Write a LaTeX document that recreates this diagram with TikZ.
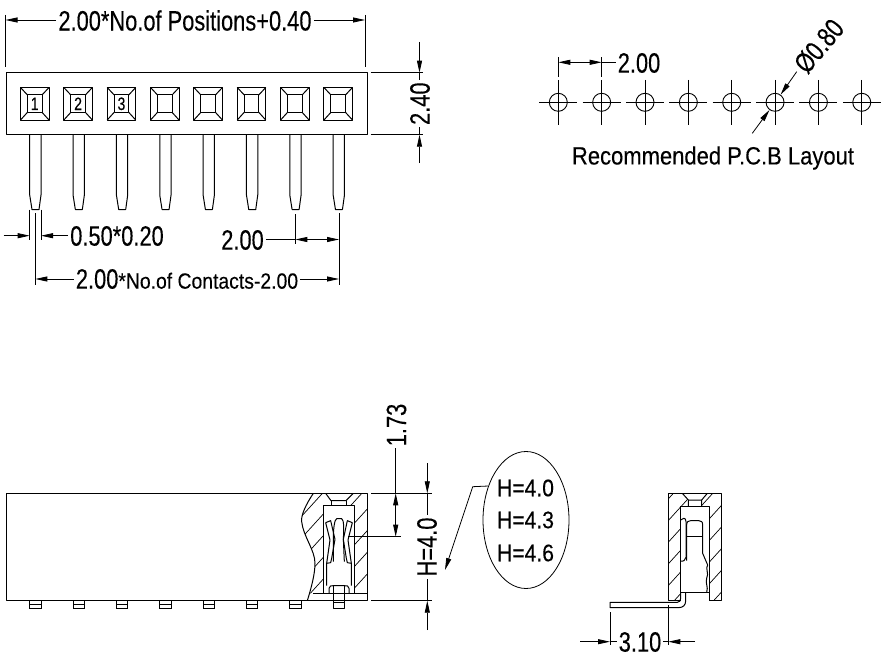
\documentclass[tikz,border=0pt]{standalone}
\usepackage{fontspec}
\setmainfont{Liberation Sans}
\newfontfamily\dimfont[FakeStretch=0.78,FakeBold=0.25]{Liberation Sans}
\newfontfamily\labfont[FakeStretch=0.88,FakeBold=0.25]{Liberation Sans}
\usetikzlibrary{arrows.meta,shapes.geometric}
\tikzset{
	part/.style={line width=1pt, line join=round},
	thinline/.style={line width=.8pt},
	hatch/.style={line width=.7pt},
	dimarr/.style={line width=.8pt, -{Triangle[length=12pt,width=5pt]}},
	dimboth/.style={line width=.8pt, {Triangle[length=12pt,width=5pt]}-{Triangle[length=12pt,width=5pt]}},
	dimtxt/.style={font=\fontsize{28}{28}\dimfont, inner sep=2pt},
	labtxt/.style={font=\fontsize{24}{24}\labfont, inner sep=1pt},
	smalltxt/.style={font=\fontsize{18}{18}\dimfont, inner sep=0pt},
	hole/.style={circle, draw, line width=.9pt, minimum size=18pt, inner sep=0pt}
}
\begin{document}
\begin{tikzpicture}[x=1pt, y=-1pt]
	\useasboundingbox (0,0) rectangle (887,661);

	\draw [part] (6,72.7) rectangle (367,134.7);
	\foreach \i in {0,...,7} {
		\begin{scope}[xshift=\i*43.35pt]
			\draw [part] (20.5,87.5) rectangle (49,120);
			\draw [part] (27.5,95) rectangle (42,112.3);
			\draw [part] (20.5,87.5) -- (27.5,95) (49,87.5) -- (42,95) (20.5,120) -- (27.5,112.3) (49,120) -- (42,112.3);
			\draw [part] (29.7,134.7) -- (29.7,195) -- (32,209.5) -- (39,209.5) -- (41,195) -- (41,134.7);
		\end{scope}
	}
	\foreach \i in {1,2,3}
		\node [smalltxt] (num\i) at ({34.75+(\i-1)*43.35},103.8) {\i};

	\node [dimtxt] (wtxt) at (185,20.5) {2.00*No.of Positions+0.40};
	\coordinate (wl) at (5.5,20);
	\coordinate (wr) at (365,20);
	\draw [thinline] (5.5,15) -- (5.5,67) (365,15) -- (365,67);
	\draw [dimarr] (wtxt.west |- wl) -- (wl);
	\draw [dimarr] (wtxt.east |- wr) -- (wr);

	\node [dimtxt, rotate=90] (htxt) at (420,103.7) {2.40};
	\coordinate (ht) at (419.5,72.7);
	\coordinate (hb) at (419.5,134.7);
	\coordinate (hta) at (419.5,42);
	\coordinate (hba) at (419.5,163);
	\draw [thinline] (370.7,72.7) -- (423,72.7) (370.7,134.7) -- (423,134.7);
	\draw [dimarr] (hta) -- (ht);
	\draw [dimarr] (hba) -- (hb);
	\draw [thinline] (ht) -- (ht |- htxt.east) (hb) -- (hb |- htxt.west);

	\node [dimtxt] (ptxt) at (117,236) {0.50*0.20};
	\coordinate (pl) at (29.7,235.7);
	\coordinate (pr) at (41,235.7);
	\coordinate (pla) at (3.6,235.7);
	\draw [thinline] (29.7,209.5) -- (29.7,240) (41,209.5) -- (41,240);
	\draw [dimarr] (pla) -- (pl);
	\draw [dimarr] (ptxt.west |- pr) -- (pr);

	\node [dimtxt] (stxt) at (242.5,240) {2.00};
	\coordinate (sl) at (295.3,239.5);
	\coordinate (sr) at (339,239.5);
	\draw [thinline] (295.3,214) -- (295.3,244);
	\draw [dimboth] (sl) -- (sr);
	\draw [thinline] (stxt.east |- sl) -- (sl);

	\node [inner sep=2pt] (ctxt) at (187,279) {\fontsize{28}{28}\dimfont 2.00\fontsize{22}{22}\labfont *No.of Contacts-2.00};
	\coordinate (cl) at (35.3,279);
	\coordinate (cr) at (339,279);
	\draw [thinline] (35.3,213) -- (35.3,285) (339,213) -- (339,285);
	\draw [dimarr] (ctxt.west |- cl) -- (cl);
	\draw [dimarr] (ctxt.east |- cr) -- (cr);

	\foreach \i in {1,...,8} {
		\node [hole] (hole\i) at ({558.3+(\i-1)*43.35},102.3) {};
		\draw [thinline] (hole\i.center) ++(0,-22.5) -- ++(0,45);
		\draw [thinline] (hole\i.center) ++(-19,0) -- ++(38,0);
	}
	\node [dimtxt] (padtxt) at (639,63) {2.00};
	\coordinate (padl) at (558.3,62.3);
	\coordinate (padr) at (601.7,62.3);
	\draw [thinline] (558.3,57.3) -- (558.3,76.7) (601.7,57.3) -- (601.7,76.7);
	\draw [dimboth] (padl) -- (padr);
	\draw [thinline] (padr) -- (padtxt.west |- padr);
	\node [dimtxt, rotate=50] (diatxt) at (819,46) {Ø0.80};
	\coordinate (dial) at (752.3,133.3);
	\coordinate (diar) at (796.7,71.7);
	\draw [dimarr] (dial) -- (hole6.234);
	\draw [dimarr] (diar) -- (hole6.54);
	\node [labtxt, font=\fontsize{25}{25}\labfont] (pcbtxt) at (713,158) {Recommended P.C.B Layout};

	\draw [part] (307.3,600.7) -- (6,600.7) -- (6,493.3) -- (367.7,493.3) -- (367.7,600.7) -- (307.3,600.7);
	\foreach \i in {0,...,6} {
		\begin{scope}[xshift=\i*43.35pt]
			\draw [thinline] (29.7,600.7) rectangle (41,608.3) (29.7,604) -- (41,604);
		\end{scope}
	}

	\begin{scope}[shift={(280,440)}, x=1/3*1pt, y=-1/3*1pt]
		\begin{scope}
			\clip (100,160) .. controls (80,190) and (62,225) .. (65,245) .. controls (70,290) and (105,330) .. (105,370) .. controls (105,400) and (95,440) .. (85,460) -- (130,460) -- (130,197) -- (153,197) -- (153,182) -- (137,160) -- cycle;
			\foreach \k in {0,...,11}
				\draw [hatch] (0,{\k*65+40}) -- +(400,-440);
		\end{scope}
		\begin{scope}
			\clip (220,160) -- (198,182) -- (198,197) -- (222,197) -- (222,460) -- (262,460) -- (262,160) -- cycle;
			\foreach \k in {0,...,11}
				\draw [hatch] (0,{\k*65+40}) -- +(400,-440);
		\end{scope}
		\draw [part] (100,160) .. controls (80,190) and (62,225) .. (65,245) .. controls (70,290) and (105,330) .. (105,370) .. controls (105,400) and (95,440) .. (82,482);
		\draw [part] (130,460) -- (130,197) -- (222,197) -- (222,460);
		\draw [part] (137,160) -- (153,182) -- (198,182) -- (220,160);
		\draw [part] (153,182) -- (153,197) (198,182) -- (198,197);
		\draw [part] (100,460) -- (262,460);
		\draw [part] (160,365) -- (160,295) .. controls (160,270) and (163,238) .. (170,236) -- (185,236) .. controls (192,238) and (192,270) .. (190,295) -- (193,365);
		\draw [part] (137,248) -- (150,300) -- (140,370) -- (140,437);
		\draw [part] (137,248) -- (152,242) -- (165,298) -- (155,355) -- (152,368) -- (140,370);
		\draw [part] (217,248) -- (204,300) -- (214,370) -- (214,437);
		\draw [part] (217,248) -- (202,242) -- (190,298) -- (199,355) -- (202,368) -- (214,370);
		\draw [part] (147,460) -- (147,445) .. controls (147,437) and (155,437) .. (160,437) -- (193,437) .. controls (200,437) and (207,437) .. (207,445) -- (207,460);
		\draw [part] (160,437) -- (160,505) -- (193,505) -- (193,437) (160,488) -- (193,488);
	\end{scope}

	\node [dimtxt, rotate=90] (ltxt) at (396.5,425) {1.73};
	\coordinate (lt) at (395.7,493.3);
	\coordinate (lb) at (395.7,536.7);
	\draw [thinline] (348,536.7) -- (400.7,536.7);
	\draw [thinline] (371,493.3) -- (431.7,493.3) (371,600.7) -- (431.7,600.7);
	\draw [thinline] (lt |- ltxt.west) -- (lt);
	\draw [dimboth] (lt) -- (lb);

	\node [dimtxt, rotate=90] (ftxt) at (427,547) {H=4.0};
	\coordinate (ft) at (427.3,493.3);
	\coordinate (fb) at (427.3,600.7);
	\coordinate (fta) at (427.3,463);
	\coordinate (fba) at (427.3,630);
	\draw [dimarr] (fta) -- (ft);
	\draw [dimarr] (fba) -- (fb);
	\draw [thinline] (ft) -- (ft |- ftxt.east) (fb) -- (fb |- ftxt.west);

	\node [ellipse, draw, line width=.8pt, minimum width=86pt, minimum height=137pt, inner sep=0pt] (oval) at (526,520) {};
	\node [labtxt] (h1) at (525.5,488) {H=4.0};
	\node [labtxt] (h2) at (525.5,520) {H=4.3};
	\node [labtxt] (h3) at (525.5,553) {H=4.6};
	\coordinate (ovbend) at (472.7,486.7);
	\coordinate (ovtip) at (445,570);
	\draw [dimarr] (oval.138) -- (ovbend) -- (ovtip);

	\begin{scope}[shift={(590,470)}, x=1/3*1pt, y=-1/3*1pt]
		\begin{scope}
			\clip (235,70) -- (277,70) -- (295,90) -- (295,108) -- (272,108) -- (272,392) -- (235,392) -- cycle;
			\foreach \k in {0,...,11}
				\draw [hatch] (100,{\k*65+40}) -- +(400,-440);
		\end{scope}
		\begin{scope}
			\clip (352,70) -- (393,70) -- (393,392) -- (357,392) -- (357,108) -- (335,108) -- (335,90) -- cycle;
			\foreach \k in {0,...,11}
				\draw [hatch] (100,{\k*65+40}) -- +(400,-440);
		\end{scope}
		\draw [part] (272,392) -- (235,392) -- (235,70) -- (393,70) -- (393,392) -- (357,392);
		\draw [part] (272,392) -- (272,108) -- (357,108) -- (357,392);
		\draw [part] (277,70) -- (295,90) -- (335,90) -- (352,70) (295,90) -- (295,108) (335,90) -- (335,108);
		\draw [part] (272,367) -- (357,367);
		\draw [part] (272,367) -- (272,385) .. controls (272,392) and (268,397) .. (262,397) -- (60,397) -- (60,413) -- (265,413) .. controls (280,413) and (287,405) .. (287,392) -- (287,367);
		\draw [part] (272,150) .. controls (276,145) and (288,140) .. (288,155) -- (288,262) .. controls (288,270) and (278,276) .. (272,273);
		\draw [part] (290,272) -- (290,165) .. controls (290,155) and (295,152) .. (302,152) -- (326,152) .. controls (334,152) and (338,155) .. (338,165) -- (338,250) -- (353,285) .. controls (345,295) and (358,310) .. (350,325) .. controls (345,340) and (356,350) .. (350,367);
		\draw [part] (290,198) -- (338,198);
	\end{scope}

	\node [dimtxt] (rtxt) at (640,642) {3.10};
	\coordinate (rl) at (610,641.7);
	\coordinate (rr) at (668.3,641.7);
	\coordinate (rla) at (580,641.7);
	\coordinate (rra) at (695,641.7);
	\draw [thinline] (610,612) -- (610,645) (668.3,605) -- (668.3,645);
	\draw [dimarr] (rla) -- (rl);
	\draw [dimarr] (rra) -- (rr);
	\draw [thinline] (rl) -- (rtxt.west |- rl) (rr) -- (rtxt.east |- rr);
\end{tikzpicture}
\end{document}
